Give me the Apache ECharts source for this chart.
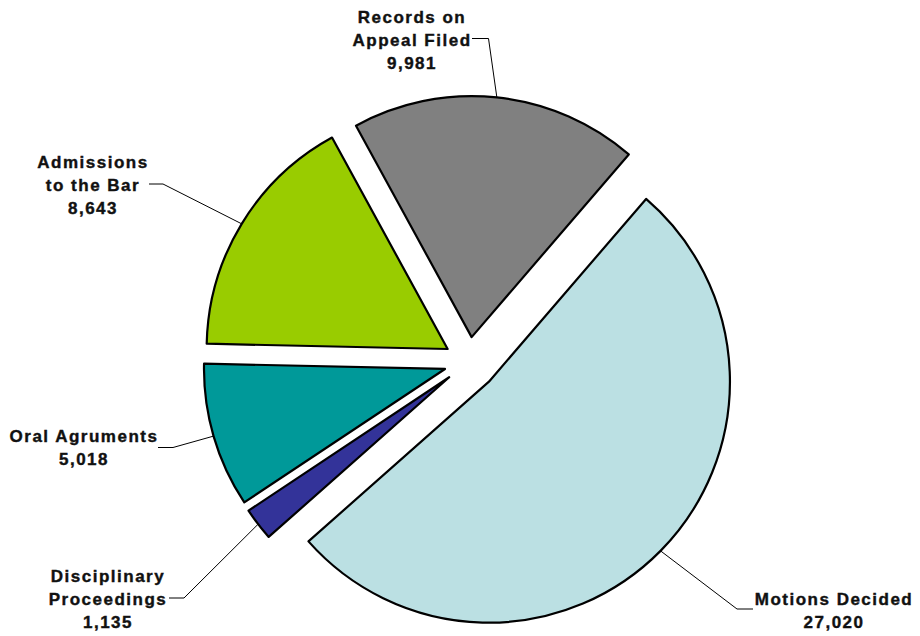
<!DOCTYPE html>
<html>
<head>
<meta charset="utf-8">
<script src="https://cdn.jsdelivr.net/npm/echarts@6/dist/echarts.min.js"></script>
<style>
  html, body { margin: 0; padding: 0; background: #fff; }
  #chart { width: 920px; height: 636px; }
  #chart text { letter-spacing: 1.5px; }
</style>
</head>
<body>
<div id="chart"></div>
<script>
// Slices, clockwise from the upper right
const categories = ['Motions Decided', 'Disciplinary\nProceedings', 'Oral Agruments', 'Admissions\nto the Bar', 'Records on\nAppeal Filed'];
const values = [27020, 1135, 5018, 8643, 9981];
const colors = ['#BBE0E3', '#333399', '#009999', '#99CC00', '#808080'];

// Pie geometry
const baseCenter = [469, 362];
const radius = 241;
const startAngle = 49.3;            // degrees, counter-clockwise from 3 o'clock
const explode = [28, 25, 25, 25, 25]; // pull-out distance of each slice

// Label boxes and leader-line bends
const labelSpots = [
  { center: [834, 611], elbow: [737, 609], end: [753, 609] },
  { center: [108, 599], elbow: [184, 598], end: [169, 598] },
  { center: [84, 448], elbow: [173, 447.5], end: [158, 447.5] },
  { center: [93, 185], elbow: [163, 184], end: [149, 184] },
  { center: [412, 40], elbow: [488.5, 38.5], end: [472, 38.5] }
];

const total = values.reduce((a, b) => a + b, 0);
const fmt = v => v.toLocaleString('en-US');

const series = [];
let cum = 0;
values.forEach((v, i) => {
  const mid = (startAngle - (cum + v / 2) / total * 360) * Math.PI / 180;
  cum += v;
  const cx = baseCenter[0] + Math.cos(mid) * explode[i];
  const cy = baseCenter[1] - Math.sin(mid) * explode[i];
  series.push({
    type: 'pie',
    center: [cx, cy],
    radius: [0, radius],
    startAngle: startAngle,
    clockwise: true,
    avoidLabelOverlap: false,
    animation: false,
    silent: true,
    data: values.map((val, j) => {
      const own = j === i;
      return {
        name: categories[j],
        value: val,
        itemStyle: own
          ? { color: colors[j], borderColor: '#000', borderWidth: 2.2 }
          : { color: 'rgba(0,0,0,0)', borderWidth: 0 },
        label: { show: own },
        labelLine: { show: own }
      };
    }),
    label: {
      position: 'outside',
      formatter: p => p.name + '\n' + fmt(p.value),
      fontFamily: '"Liberation Sans", Arial, sans-serif',
      fontWeight: 'bold',
      fontSize: 17,
      lineHeight: 23,
      color: '#111',
      textBorderColor: '#111',
      textBorderWidth: 0.4,
      align: 'center'
    },
    labelLine: {
      lineStyle: { color: '#000', width: 1 }
    },
    labelLayout: p => {
      const s = labelSpots[p.dataIndex];
      const pts = p.labelLinePoints;
      const anchor = pts && pts[0] ? pts[0] : s.elbow;
      return {
        x: s.center[0],
        y: s.center[1],
        align: 'center',
        verticalAlign: 'middle',
        labelLinePoints: [anchor, s.elbow, s.end]
      };
    }
  });
});

const chart = echarts.init(document.getElementById('chart'), null, { renderer: 'svg' });
chart.setOption({
  backgroundColor: '#fff',
  animation: false,
  series: series
});
</script>
</body>
</html>
